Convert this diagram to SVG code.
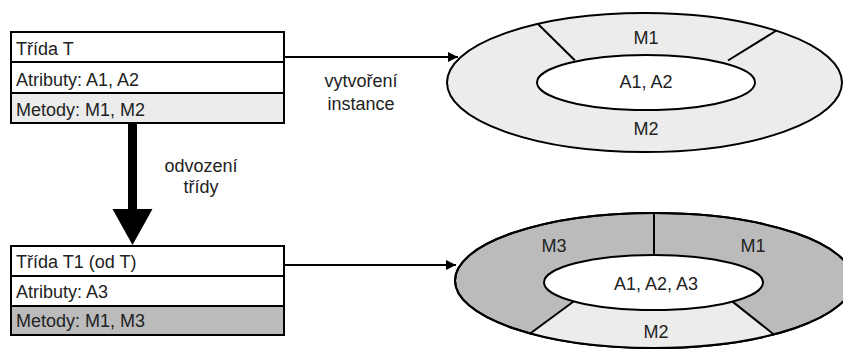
<svg xmlns="http://www.w3.org/2000/svg" width="843" height="349" viewBox="0 0 843 349">
<defs>
<style>
text{font-family:"Liberation Sans",Arial,sans-serif;font-size:18px;fill:#222}
.c{text-anchor:middle}
.b{stroke:#000;stroke-width:2}
.w{fill:#fff}
.l{fill:#ececec}
.d{fill:#bbbbbb}
.ln{stroke:#000;stroke-width:2;fill:none}
</style>
<marker id="ah" markerWidth="10" markerHeight="10" refX="10" refY="5" orient="auto" markerUnits="userSpaceOnUse">
<path d="M0,0 L10,5 L0,10 Z" fill="#000"/>
</marker>
</defs>
<g id="classT">
<rect class="b w" x="11" y="32" width="273" height="30"/>
<rect class="b w" x="11" y="62" width="273" height="31"/>
<rect class="b l" x="11" y="93" width="273" height="30"/>
<text x="16" y="55">Třída T</text>
<text x="16" y="86">Atributy: A1, A2</text>
<text x="16" y="116">Metody: M1, M2</text>
</g>
<g id="classT1">
<rect class="b w" x="11" y="246" width="273" height="30"/>
<rect class="b w" x="11" y="276" width="273" height="30"/>
<rect class="b d" x="11" y="306" width="273" height="29"/>
<text x="16" y="268">Třída T1 (od T)</text>
<text x="16" y="298">Atributy: A3</text>
<text x="16" y="327">Metody: M1, M3</text>
</g>
<g id="instanceT">
<ellipse class="b l" cx="644.5" cy="82.5" rx="197.5" ry="69.5"/>
<ellipse class="b w" cx="646" cy="82.5" rx="109" ry="27.5"/>
<line class="ln" x1="538" y1="24" x2="575" y2="60.5"/>
<line class="ln" x1="776.5" y1="30.5" x2="728" y2="60.5"/>
<text class="c" x="646" y="44">M1</text>
<text class="c" x="646" y="88">A1, A2</text>
<text class="c" x="646" y="135">M2</text>
</g>
<g id="instanceT1">
<ellipse class="b d" cx="654" cy="280.5" rx="199" ry="67.5"/>
<path class="l" d="M530.3,333.4 A199,67.5 0 0 0 773.7,334.4 L732.5,301.6 A109.5,27.5 0 0 1 573.9,301.3 Z"/>
<ellipse class="ln" cx="654" cy="280.5" rx="199" ry="67.5"/>
<ellipse class="b w" cx="653.5" cy="282.5" rx="109.5" ry="27.5"/>
<line class="ln" x1="654" y1="213" x2="654" y2="255"/>
<line class="ln" x1="573.9" y1="301.3" x2="529.5" y2="334"/>
<line class="ln" x1="732.5" y1="301.6" x2="774.5" y2="335"/>
<text class="c" x="554" y="252">M3</text>
<text class="c" x="753" y="252">M1</text>
<text class="c" x="656" y="290">A1, A2, A3</text>
<text class="c" x="656" y="338">M2</text>
</g>
<g id="connectors">
<line class="ln" x1="284" y1="57" x2="458" y2="57" marker-end="url(#ah)"/>
<line class="ln" x1="284" y1="265" x2="456" y2="265" marker-end="url(#ah)"/>
<rect x="128" y="123" width="9" height="87" fill="#000"/>
<path d="M112.5,209 L152.5,209 L132.5,245 Z" fill="#000"/>
<text class="c" x="361" y="87">vytvoření</text>
<text class="c" x="361" y="110">instance</text>
<text class="c" x="201" y="172">odvození</text>
<text class="c" x="201" y="193">třídy</text>
</g>
</svg>
